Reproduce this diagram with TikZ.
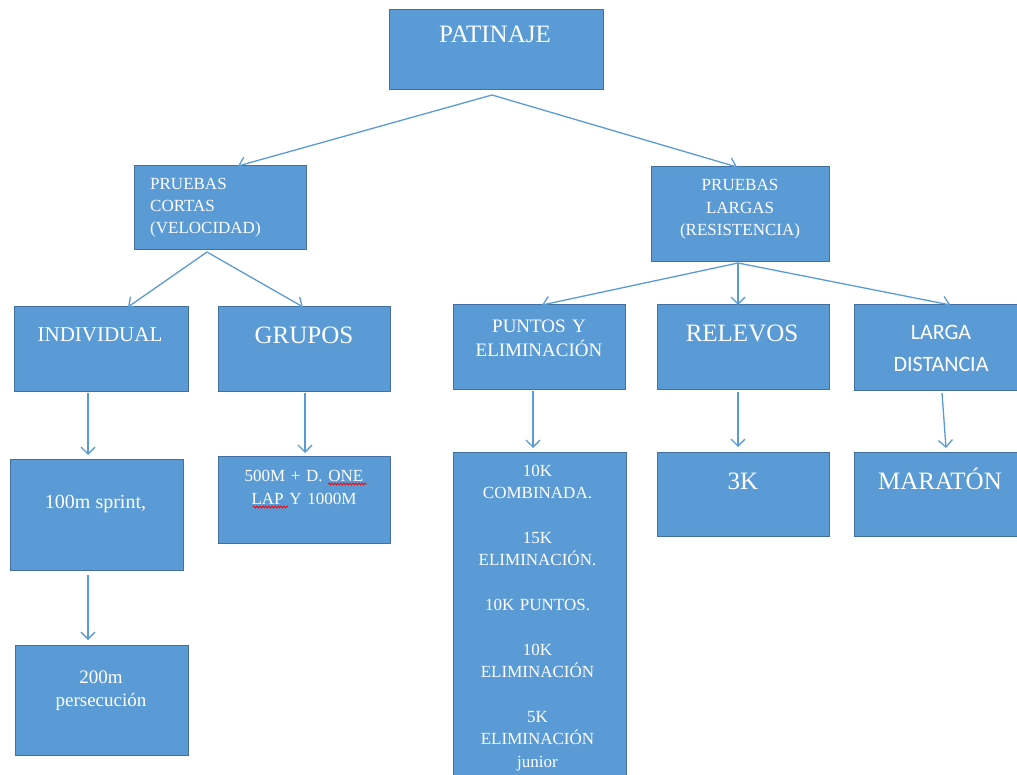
\documentclass[tikz,border=0pt]{standalone}
\usepackage{fontspec}
\setmainfont{Liberation Serif}
\newfontfamily\carlitofont{Carlito}
\usetikzlibrary{arrows.meta,calc,decorations.pathmorphing}
\definecolor{boxfill}{HTML}{5B9BD5}
\definecolor{boxline}{HTML}{41719C}
\definecolor{arrowc}{HTML}{5B9BD5}
\newcommand{\boxat}[5]{\node[box, minimum width=#4pt, minimum height=#5pt] (#1) at (#2,#3) {};}
\begin{document}
\begin{tikzpicture}[x=1pt,y=-1pt,
 box/.style={draw=boxline, fill=boxfill, line width=1pt, inner sep=0pt, outer sep=0pt, anchor=north west},
 lbl/.style={text=white, inner sep=0pt, anchor=base},
 arr/.style={draw=arrowc, line width=1.3pt, -{Straight Barb[length=7pt,width=14pt]}},
 squig/.style={draw=red, line width=0.8pt, decorate, decoration={snake, amplitude=1pt, segment length=3pt}}
]
\useasboundingbox (0,0) rectangle (1017,775);
\boxat{pat}{389}{10}{214}{80}
\boxat{cor}{134}{166}{172}{84}
\boxat{lar}{651}{167}{178}{95}
\boxat{ind}{14}{307}{174}{84}
\boxat{gru}{218}{307}{172}{84}
\boxat{pun}{453}{305}{172}{84}
\boxat{rel}{657}{305}{172}{84}
\boxat{ld}{854}{305}{165}{85}
\boxat{spr}{10}{459}{173}{111}
\boxat{per}{15}{645}{173}{110}
\boxat{gf}{218}{456}{172}{87}
\boxat{kd}{453}{452}{173}{330}
\boxat{kt}{657}{452}{172}{84}
\boxat{mar}{854}{452}{165}{84}

\node[lbl, font=\fontsize{25}{30}\selectfont] (tpat) at (495,43) {PATINAJE};
\node[lbl, anchor=base west, text width=150pt, align=left, font=\fontsize{17}{22}\selectfont] (tcor) at (150,190) {PRUEBAS\\CORTAS\\(VELOCIDAD)};
\node[lbl, text width=170pt, align=center, font=\fontsize{17}{22.5}\selectfont] (tlar) at (740,191) {PRUEBAS\\LARGAS\\(RESISTENCIA)};
\node[lbl, font=\fontsize{21}{25}\selectfont] (tind) at (100,342) {INDIVIDUAL};
\node[lbl, font=\fontsize{25}{30}\selectfont] (tgru) at (304,344) {GRUPOS};
\node[lbl, text width=170pt, align=center, font=\fontsize{19}{24}\selectfont] (tpun) at (539,333) {PUNTOS Y\\ELIMINACIÓN};
\node[lbl, font=\fontsize{25}{30}\selectfont] (trel) at (742,342) {RELEVOS};
\node[lbl, text width=160pt, align=center, font=\carlitofont\fontsize{22}{32}\selectfont] (tld) at (941,340) {LARGA\\DISTANCIA};
\node[lbl, font=\fontsize{20}{24}\selectfont] (tspr) at (95.5,508) {100m sprint,};
\node[lbl, text width=170pt, align=center, font=\fontsize{19}{23}\selectfont] (tper) at (101,683) {200m\\persecución};
\node[lbl, text width=170pt, align=center, font=\fontsize{17}{23}\selectfont] (tgf) at (304,481) {500M + D. ONE\\LAP Y 1000M};
\node[lbl, text width=170pt, align=center, font=\fontsize{17}{22.4}\selectfont] (tkd) at (537.5,476) {10K\\COMBINADA.\\[22.4pt]15K\\ELIMINACIÓN.\\[22.4pt]10K PUNTOS.\\[22.4pt]10K\\ELIMINACIÓN\\[22.4pt]5K\\ELIMINACIÓN\\junior};
\node[lbl, font=\fontsize{25}{30}\selectfont] (tkt) at (743,489) {3K};
\node[lbl, font=\fontsize{25}{30}\selectfont] (tmar) at (940,489) {MARATÓN};

\draw[squig] (328,484) -- (367,484);
\draw[squig] (253,507) -- (288,507);

\draw[arr] ($(pat.south)+(-4,5)$) -- ($(cor.north)+(18,0)$);
\draw[arr] ($(pat.south)+(-4,5)$) -- ($(lar.north)+(-3,0)$);
\draw[arr] ($(cor.south)+(-13,2)$) -- ($(ind.north)+(27,0)$);
\draw[arr] ($(cor.south)+(-13,2)$) -- ($(gru.north)+(-1,0)$);
\draw[arr] ($(lar.south)+(-2,1)$) -- ($(pun.north)+(3,0)$);
\draw[arr] ($(lar.south)+(-2,1)$) -- ($(rel.north)+(-5,0)$);
\draw[arr] ($(lar.south)+(-2,1)$) -- ($(ld.north)+(14,0)$);
\draw[arr] ($(ind.south)+(-13,2)$) -- ($(spr.north)+(-8.5,-4)$);
\draw[arr] ($(spr.south)+(-8.5,5)$) -- ($(per.north)+(-13.5,-5)$);
\draw[arr] ($(gru.south)+(1,2)$) -- ($(gf.north)+(1,-3)$);
\draw[arr] ($(pun.south)+(-6,2)$) -- ($(kd.north)+(-6.5,-4)$);
\draw[arr] ($(rel.south)+(-5,3)$) -- ($(kt.north)+(-5,-5)$);
\draw[arr] ($(ld.south)+(5.5,3)$) -- ($(mar.north)+(9.5,-4)$);
\end{tikzpicture}
\end{document}
